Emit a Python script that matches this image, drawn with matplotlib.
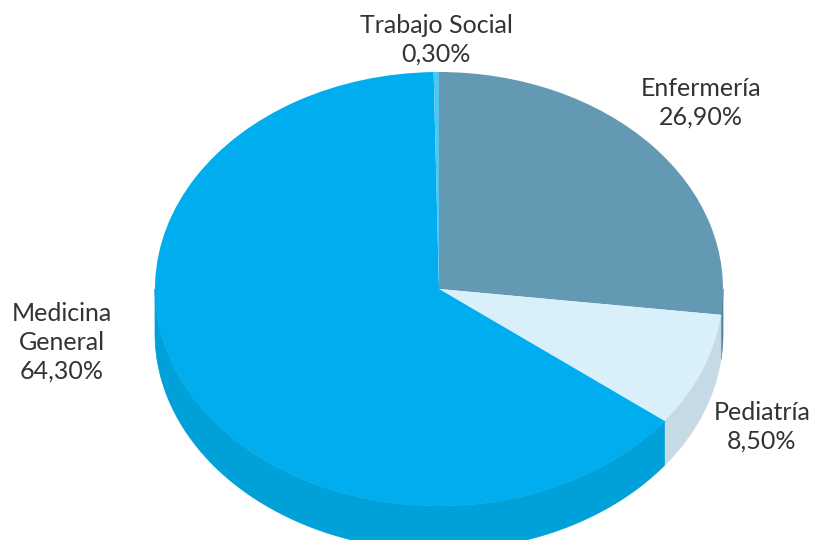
import numpy as np
import matplotlib
matplotlib.use("Agg")
import matplotlib.pyplot as plt
from matplotlib.patches import Polygon

labels = ["Enfermería", "Pediatría", "Medicina\nGeneral", "Trabajo Social"]
values = [26.9, 8.5, 64.3, 0.3]
top_colors = ["#6499b3", "#d9eff9", "#00adee", "#4fc6f2"]
side_colors = ["#4f8199", "#c6dae5", "#00a0d8", "#3bb3e0"]

# posiciones de las etiquetas (px desde arriba-izquierda)
label_pos = [(701, 103), (762, 427), (62, 342), (436, 40)]

plt.rcParams['font.family'] = ['Lato', 'DejaVu Sans']

fig = plt.figure(figsize=(8.18, 5.40), dpi=100)
ax = fig.add_axes([0, 0, 1, 1])

depth = 0.205

# lados 3D (solo la mitad inferior es visible)
fracs = np.array(values) / sum(values)
start = 90.0
for frac, col in zip(fracs, side_colors):
    t1 = start - frac * 360
    t2 = start
    start = t1
    for off in (0, -360, 360):
        a, b = max(t1 + off, -180), min(t2 + off, 0)
        if a < b:
            t = np.radians(np.linspace(a, b, 100))
            top = np.column_stack([np.cos(t), np.sin(t)])
            bot = np.column_stack([np.cos(t[::-1]), np.sin(t[::-1]) - depth])
            ax.add_patch(Polygon(np.vstack([top, bot]), closed=True,
                                 facecolor=col, edgecolor=col, lw=0.5, zorder=1))

wedges, _ = ax.pie(values, colors=top_colors, startangle=90, counterclock=False,
                   radius=1, wedgeprops=dict(linewidth=0))
for w in wedges:
    w.set_zorder(2)

ax.set_aspect('auto')
ax.set_xlim(-439 / 284, (818 - 439) / 284)
ax.set_ylim(-251 / 217, 289 / 217)
ax.axis('off')

for lab, val, (px, py) in zip(labels, values, label_pos):
    txt = lab + "\n" + f"{val:.2f}".replace(".", ",") + "%"
    fig.text(px / 818, 1 - py / 540, txt, ha='center', va='center',
             fontsize=18, color='#333333', linespacing=1.3)

fig.savefig("out.png", dpi=100)
